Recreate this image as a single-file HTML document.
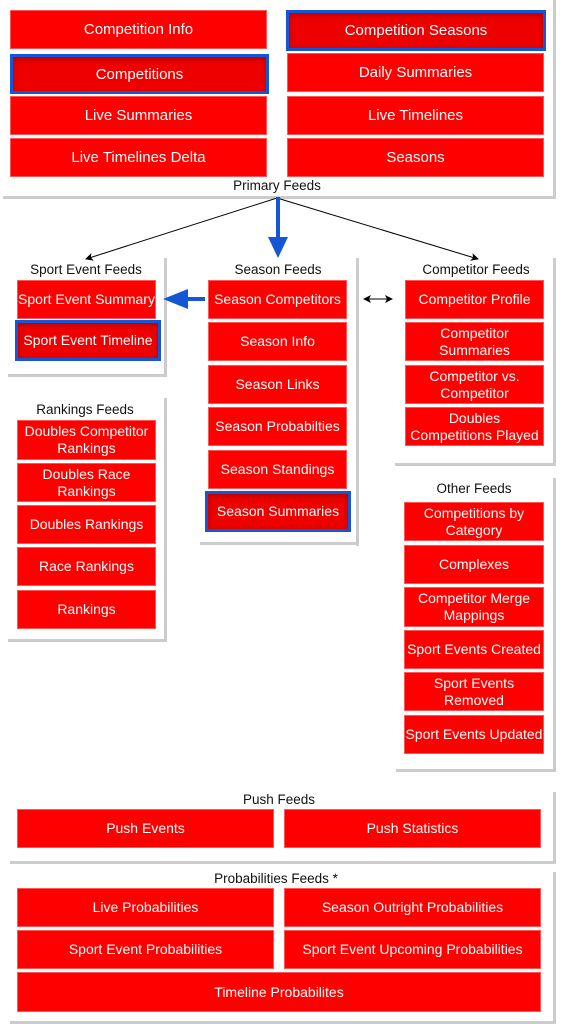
<!DOCTYPE html>
<html><head><meta charset="utf-8"><style>
body{margin:0;width:562px;height:1024px;background:#fff;position:relative;overflow:hidden;font-family:"Liberation Sans",sans-serif}
.b{position:absolute;background:#f00;color:#fff;font-size:14px;display:flex;align-items:center;justify-content:center;text-align:center;line-height:17px;box-sizing:border-box;border:1px solid #f55}
.s{border:3px solid #1456d6;background:#e00;box-shadow:inset 0 2px 6px rgba(120,0,0,.5)}
.l{position:absolute;font-size:13.5px;color:#111;transform:translateX(-50%);white-space:nowrap}
.v{position:absolute;width:3px;background:#ccc}
.h{position:absolute;height:3px;background:#ccc}
</style></head><body>
<!-- containers -->
<div class="v" style="left:553px;top:0;height:199px"></div><div class="h" style="left:3px;top:196px;width:553px"></div>
<div class="v" style="left:164px;top:258px;height:118px"></div><div class="h" style="left:8px;top:374px;width:159px"></div>
<div class="v" style="left:356px;top:258px;height:288px"></div><div class="h" style="left:200px;top:542px;width:159px"></div>
<div class="v" style="left:553px;top:258px;height:208px"></div><div class="h" style="left:395px;top:463px;width:161px"></div>
<div class="v" style="left:164px;top:398px;height:244px"></div><div class="h" style="left:8px;top:639px;width:159px"></div>
<div class="v" style="left:553px;top:478px;height:294px"></div><div class="h" style="left:396px;top:769px;width:160px"></div>
<div class="v" style="left:553px;top:792px;height:72px"></div><div class="h" style="left:10px;top:861px;width:546px"></div>
<div class="v" style="left:553px;top:872px;height:152px"></div><div class="h" style="left:10px;top:1021px;width:546px"></div>

<!-- primary -->
<div class="b" style="left:10px;top:10px;width:257px;height:39px;font-size:15px">Competition Info</div>
<div class="b s" style="left:10px;top:54px;width:259px;height:40px;font-size:15px">Competitions</div>
<div class="b" style="left:10px;top:96px;width:257px;height:39px;font-size:15px">Live Summaries</div>
<div class="b" style="left:10px;top:138px;width:257px;height:39px;font-size:15px">Live Timelines Delta</div>
<div class="b s" style="left:286px;top:10px;width:260px;height:41px;font-size:15px">Competition Seasons</div>
<div class="b" style="left:287px;top:53px;width:257px;height:39px;font-size:15px">Daily Summaries</div>
<div class="b" style="left:287px;top:96px;width:257px;height:39px;font-size:15px">Live Timelines</div>
<div class="b" style="left:287px;top:138px;width:257px;height:39px;font-size:15px">Seasons</div>
<div class="l" style="left:277px;top:178px">Primary Feeds</div>

<svg style="position:absolute;left:0;top:0" width="562" height="1024">
<defs><marker id="a" markerWidth="8" markerHeight="8" refX="7" refY="4" orient="auto"><path d="M0,0 L8,4 L0,8 L2,4z" fill="#000"/></marker>
<marker id="a2" markerWidth="8" markerHeight="8" refX="1" refY="4" orient="auto"><path d="M8,0 L0,4 L8,8 L6,4z" fill="#000"/></marker></defs>
<line x1="277" y1="198" x2="86" y2="259" stroke="#000" stroke-width="1" marker-end="url(#a)"/>
<line x1="277" y1="198" x2="478" y2="259" stroke="#000" stroke-width="1" marker-end="url(#a)"/>
<line x1="278" y1="197" x2="278" y2="240" stroke="#1456d6" stroke-width="4"/>
<path d="M268,237 L288,237 L278,258z" fill="#1456d6"/>
<line x1="205" y1="299" x2="185" y2="299" stroke="#1456d6" stroke-width="4"/>
<path d="M188,289 L188,309 L163,299z" fill="#1456d6"/>
<line x1="364" y1="299" x2="392" y2="299" stroke="#000" stroke-width="1" marker-end="url(#a)" marker-start="url(#a2)"/>
</svg>

<!-- sport event -->
<div class="l" style="left:86px;top:262px">Sport Event Feeds</div>
<div class="b" style="left:17px;top:280px;width:139px;height:39px">Sport Event Summary</div>
<div class="b s" style="left:15px;top:320px;width:146px;height:41px">Sport Event Timeline</div>
<!-- season -->
<div class="l" style="left:278px;top:262px">Season Feeds</div>
<div class="b" style="left:208px;top:280px;width:139px;height:39px">Season Competitors</div>
<div class="b" style="left:208px;top:322px;width:139px;height:39px">Season Info</div>
<div class="b" style="left:208px;top:365px;width:139px;height:39px">Season Links</div>
<div class="b" style="left:208px;top:407px;width:139px;height:39px">Season Probabilties</div>
<div class="b" style="left:208px;top:450px;width:139px;height:39px">Season Standings</div>
<div class="b s" style="left:205px;top:491px;width:146px;height:41px">Season Summaries</div>
<!-- competitor -->
<div class="l" style="left:476px;top:262px">Competitor Feeds</div>
<div class="b" style="left:405px;top:280px;width:139px;height:39px">Competitor Profile</div>
<div class="b" style="left:405px;top:322px;width:139px;height:39px">Competitor<br>Summaries</div>
<div class="b" style="left:405px;top:365px;width:139px;height:39px">Competitor vs.<br>Competitor</div>
<div class="b" style="left:405px;top:407px;width:139px;height:39px">Doubles<br>Competitions Played</div>
<!-- rankings -->
<div class="l" style="left:85px;top:402px">Rankings Feeds</div>
<div class="b" style="left:17px;top:420px;width:139px;height:40px">Doubles Competitor<br>Rankings</div>
<div class="b" style="left:17px;top:463px;width:139px;height:39px">Doubles Race<br>Rankings</div>
<div class="b" style="left:17px;top:505px;width:139px;height:39px">Doubles Rankings</div>
<div class="b" style="left:17px;top:547px;width:139px;height:39px">Race Rankings</div>
<div class="b" style="left:17px;top:590px;width:139px;height:39px">Rankings</div>
<!-- other -->
<div class="l" style="left:474px;top:481px">Other Feeds</div>
<div class="b" style="left:404px;top:502px;width:140px;height:39px">Competitions by<br>Category</div>
<div class="b" style="left:404px;top:545px;width:140px;height:39px">Complexes</div>
<div class="b" style="left:404px;top:587px;width:140px;height:40px">Competitor Merge<br>Mappings</div>
<div class="b" style="left:404px;top:630px;width:140px;height:39px">Sport Events Created</div>
<div class="b" style="left:404px;top:672px;width:140px;height:39px">Sport Events<br>Removed</div>
<div class="b" style="left:404px;top:715px;width:140px;height:39px">Sport Events Updated</div>
<!-- push -->
<div class="l" style="left:279px;top:792px">Push Feeds</div>
<div class="b" style="left:17px;top:809px;width:257px;height:39px">Push Events</div>
<div class="b" style="left:284px;top:809px;width:257px;height:39px">Push Statistics</div>
<!-- probabilities -->
<div class="l" style="left:276px;top:871px">Probabilities Feeds *</div>
<div class="b" style="left:17px;top:888px;width:257px;height:39px">Live Probabilities</div>
<div class="b" style="left:284px;top:888px;width:257px;height:39px">Season Outright Probabilities</div>
<div class="b" style="left:17px;top:930px;width:257px;height:39px">Sport Event Probabilities</div>
<div class="b" style="left:284px;top:930px;width:257px;height:39px">Sport Event Upcoming Probabilities</div>
<div class="b" style="left:17px;top:972px;width:524px;height:40px">Timeline Probabilites</div>
</body></html>
